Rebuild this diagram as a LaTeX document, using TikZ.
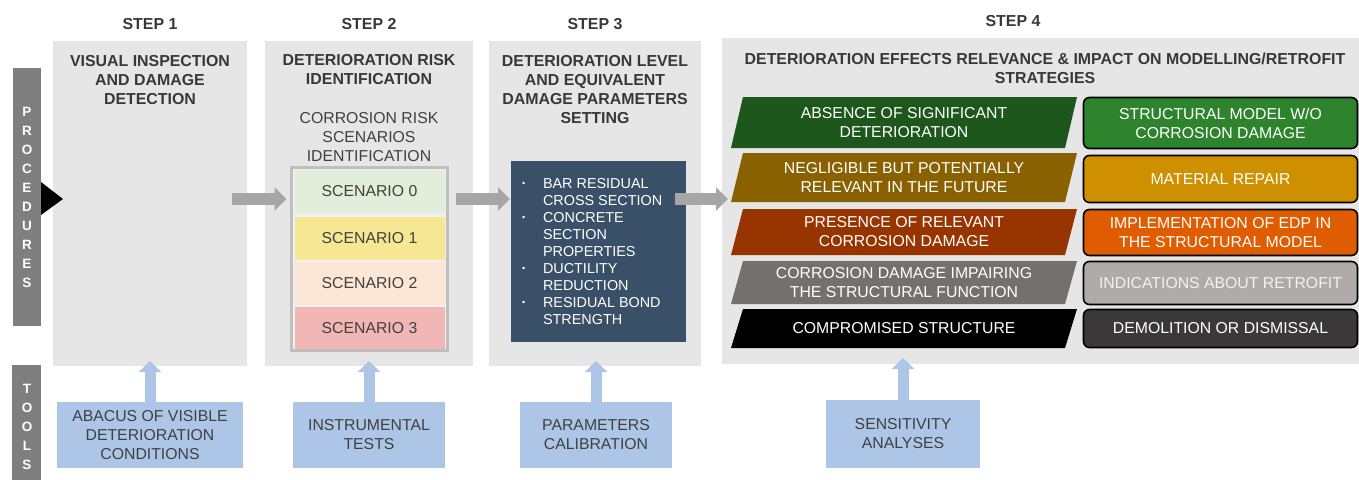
\documentclass[tikz,border=0pt]{standalone}
\usepackage{fontspec}
\setmainfont{Liberation Sans}
\usetikzlibrary{arrows.meta,calc}

\definecolor{panelgray}{HTML}{E6E6E6}
\definecolor{bargray}{HTML}{7F7F7F}
\definecolor{titletext}{HTML}{383838}
\definecolor{bodytext}{HTML}{404040}
\definecolor{arrowgray}{HTML}{A6A6A6}
\definecolor{toolblue}{HTML}{ADC6E7}
\definecolor{slate}{HTML}{3A5068}
\definecolor{framegray}{HTML}{BFBFBF}
\definecolor{scenA}{HTML}{E3EEDA}
\definecolor{scenB}{HTML}{F6E893}
\definecolor{scenC}{HTML}{FCE7D7}
\definecolor{scenD}{HTML}{F2B7B4}
\definecolor{levA}{HTML}{1E571C}
\definecolor{levB}{HTML}{8A6100}
\definecolor{levC}{HTML}{983400}
\definecolor{levD}{HTML}{757070}
\definecolor{levE}{HTML}{000000}
\definecolor{actA}{HTML}{2E842C}
\definecolor{actB}{HTML}{CF9000}
\definecolor{actC}{HTML}{E05C00}
\definecolor{actD}{HTML}{AFABAA}
\definecolor{actE}{HTML}{3A3838}

\newcommand\bulletmark{\makebox[21pt][l]{\fontsize{9}{9}\selectfont\raisebox{2pt}{•}}}
\newcommand\bulletgap{\hspace*{21pt}}

\begin{document}
\begin{tikzpicture}[x=1pt,y=-1pt,
  every node/.style={inner sep=0pt, outer sep=0pt},
  panel/.style={fill=panelgray, minimum height=325},
  steplabel/.style={font=\bfseries\fontsize{15.9}{19}\selectfont, text=titletext, anchor=north},
  paneltitle/.style={font=\bfseries\fontsize{15.9}{19}\selectfont, text=titletext, align=center, anchor=north},
  bodyfont/.style={font=\fontsize{15.8}{19}\selectfont, align=center},
  sidebar/.style={fill=bargray, text=white, font=\bfseries\fontsize{13.5}{19}\selectfont, align=center},
  scenbox/.style={bodyfont, text=bodytext, minimum width=150, minimum height=43},
  toolbox/.style={fill=toolblue, bodyfont, text=bodytext, minimum height=66},
  levtext/.style={bodyfont, text=white},
  actbox/.style={bodyfont, text=white, draw=black, line width=1.6pt, rounded corners=6pt, minimum width=274},
  fatarrow/.style={draw=arrowgray, line width=12pt, -{Triangle[width=23pt,length=12pt]}},
  toolarrow/.style={draw=toolblue, line width=11pt, -{Triangle[width=22pt,length=11pt]}}
]
\useasboundingbox (0,0) rectangle (1359,479);

% step panels
\node[panel, minimum width=194] (p1) at (150,203.5) {};
\node[panel, minimum width=208] (p2) at (369,203.5) {};
\node[panel, minimum width=212] (p3) at (595,203.5) {};
\node[panel, minimum width=643, minimum height=326] (p4) at (1043.5,201) {};

% step labels
\node[steplabel] (s1) at (150,18) {STEP 1};
\node[steplabel] (s2) at (369,18) {STEP 2};
\node[steplabel] (s3) at (595,18) {STEP 3};
\node[steplabel] (s4) at (1013,15) {STEP 4};

% panel titles
\node[paneltitle] (h1) at (150,55) {VISUAL INSPECTION\\AND DAMAGE\\DETECTION};
\node[paneltitle] (h2) at (369,54) {DETERIORATION RISK\\IDENTIFICATION};
\node[paneltitle] (h3) at (595,55) {DETERIORATION LEVEL\\AND EQUIVALENT\\DAMAGE PARAMETERS\\SETTING};
\node[paneltitle] (h4) at (1045,53) {DETERIORATION EFFECTS RELEVANCE \& IMPACT ON MODELLING/RETROFIT\\STRATEGIES};

% side bars
\node[sidebar, minimum width=28, minimum height=258] (proc) at (27,197) {};
\node[sidebar] (proclbl) at (27,197) {P\\R\\O\\C\\E\\D\\U\\R\\E\\S};
\node[sidebar, minimum width=29, minimum height=116] (tools) at (26.5,423) {};
\node[sidebar] (toolslbl) at (27,427) {T\\O\\O\\L\\S};
\coordinate (tri) at (63,199);
\fill[black] ($(proc.east |- tri)+(0,-17)$) -- (tri) -- ($(proc.east |- tri)+(0,16)$) -- cycle;

% step 2: scenarios
\node[draw=framegray, line width=3pt, fill=panelgray!60!white, minimum width=156, minimum height=183] (frame) at (369.5,259) {};
\node[scenbox, fill=scenA] (sc0) at (369.5,191.5) {SCENARIO 0};
\node[scenbox, fill=scenB] (sc1) at (369.5,238.5) {SCENARIO 1};
\node[scenbox, fill=scenC] (sc2) at (369.5,283.5) {SCENARIO 2};
\node[scenbox, fill=scenD, minimum height=42] (sc3) at (369.5,328) {SCENARIO 3};
\node[bodyfont, text=bodytext, anchor=north] (h2b) at (369,112) {CORROSION RISK\\SCENARIOS\\IDENTIFICATION};

% step 3: damage parameters
\node[fill=slate, minimum width=175, minimum height=181] (b3) at (598.5,251.5) {};
\node[font=\fontsize{14.4}{17.1}\selectfont, text=white, align=left, anchor=north west] (b3list) at (522,178)
  {\bulletmark BAR RESIDUAL\\\bulletgap CROSS SECTION\\
   \bulletmark CONCRETE\\\bulletgap SECTION\\\bulletgap PROPERTIES\\
   \bulletmark DUCTILITY\\\bulletgap REDUCTION\\
   \bulletmark RESIDUAL BOND\\\bulletgap STRENGTH};

% step 4: deterioration levels
\fill[levA] (743,97) -- (1077,97) -- (1065,148) -- (731,148) -- cycle;
\fill[levB] (743,153) -- (1077,153) -- (1065,202) -- (731,202) -- cycle;
\fill[levC] (743,209) -- (1077,209) -- (1065,255) -- (731,255) -- cycle;
\fill[levD] (743,261) -- (1077,261) -- (1065,304) -- (731,304) -- cycle;
\fill[levE] (743,309) -- (1077,309) -- (1065,348) -- (731,348) -- cycle;
\node[levtext] (l1) at (904,122.5) {ABSENCE OF SIGNIFICANT\\DETERIORATION};
\node[levtext] (l2) at (904,177.5) {NEGLIGIBLE BUT POTENTIALLY\\RELEVANT IN THE FUTURE};
\node[levtext] (l3) at (904,232) {PRESENCE OF RELEVANT\\CORROSION DAMAGE};
\node[levtext] (l4) at (904,282.5) {CORROSION DAMAGE IMPAIRING\\THE STRUCTURAL FUNCTION};
\node[levtext] (l5) at (904,328.5) {COMPROMISED STRUCTURE};

% step 4: modelling / retrofit actions
\node[actbox, fill=actA, minimum height=51] (r1) at (1220.5,123) {STRUCTURAL MODEL W/O\\CORROSION DAMAGE};
\node[actbox, fill=actB, minimum height=47] (r2) at (1220.5,179) {MATERIAL REPAIR};
\node[actbox, fill=actC, minimum height=46] (r3) at (1220.5,232.5) {IMPLEMENTATION OF EDP IN\\THE STRUCTURAL MODEL};
\node[actbox, fill=actD, text=white!95!black, minimum height=43] (r4) at (1220.5,283) {INDICATIONS ABOUT RETROFIT};
\node[actbox, fill=actE, minimum height=38] (r5) at (1220.5,328.5) {DEMOLITION OR DISMISSAL};

% flow between steps
\draw[fatarrow] ($(p1.east |- tri)+(-15,0)$) -- ($(frame.west |- tri)+(-5,0)$);
\draw[fatarrow] ($(frame.east |- tri)+(8,0)$) -- ($(b3.west |- tri)+(-1,0)$);
\draw[fatarrow] ($(b3.east |- tri)+(-11,0)$) -- ($(p4.west |- tri)+(6,0)$);

% tools
\node[toolbox, minimum width=186] (t1) at (150,435) {ABACUS OF VISIBLE\\DETERIORATION\\CONDITIONS};
\node[toolbox, minimum width=152] (t2) at (369,435) {INSTRUMENTAL\\TESTS};
\node[toolbox, minimum width=152] (t3) at (596,435) {PARAMETERS\\CALIBRATION};
\node[toolbox, minimum width=154, minimum height=68] (t4) at (903,434) {SENSITIVITY\\ANALYSES};

\draw[toolarrow] (t1.north) -- ($(t1.north |- p1.south)+(0,-5)$);
\draw[toolarrow] (t2.north) -- ($(t2.north |- p2.south)+(0,-5)$);
\draw[toolarrow] (t3.north) -- ($(t3.north |- p3.south)+(0,-5)$);
\draw[toolarrow] (t4.north) -- ($(t4.north |- p4.south)+(0,-6)$);
\end{tikzpicture}
\end{document}
